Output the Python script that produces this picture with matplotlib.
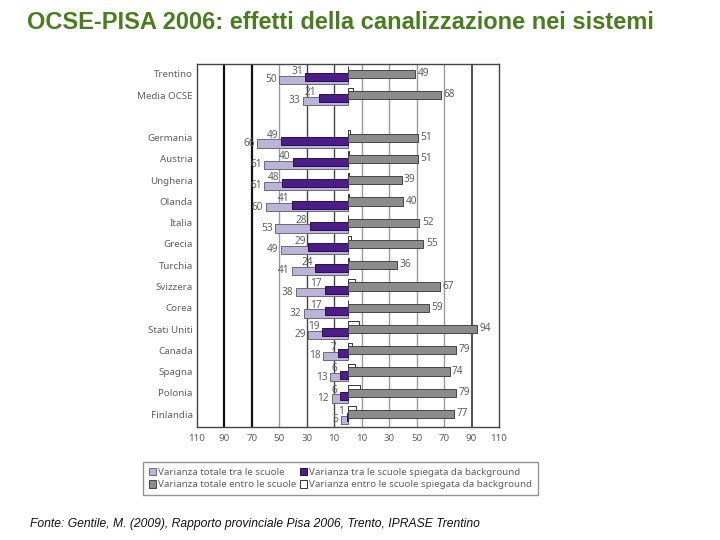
import numpy as np
import matplotlib
matplotlib.use('Agg')
import matplotlib.pyplot as plt

# data
paesi = ['Trentino', 'Media OCSE', 'Germania', 'Austria', 'Ungheria', 'Olanda',
         'Italia', 'Grecia', 'Turchia', 'Svizzera', 'Corea', 'Stati Uniti',
         'Canada', 'Spagna', 'Polonia', 'Finlandia']
row_pos = [0, 1, 3, 4, 5, 6, 7, 8, 9, 10, 11, 12, 13, 14, 15, 16]

tot_tra = [50, 33, 66, 61, 61, 60, 53, 49, 41, 38, 32, 29, 18, 13, 12, 5]     # varianza totale tra le scuole
bg_tra = [31, 21, 49, 40, 48, 41, 28, 29, 24, 17, 17, 19, 7, 6, 6, 1]         # tra, spiegata da background
tot_entro = [49, 68, 51, 51, 39, 40, 52, 55, 36, 67, 59, 94, 79, 74, 79, 77]  # varianza totale entro le scuole
bg_entro = [0, 3.5, 1.5, 0.5, 0.5, 0.7, 0.3, 2, 0.5, 5.3, 0, 7.8, 2.9, 5.1, 9, 6]  # entro, spiegata (no labels)

xticks = [-110, -90, -70, -50, -30, -10, 10, 30, 50, 70, 90, 110]

c_light = '#bcb3d9'
c_dark = '#4b1e87'
c_gray = '#8c8c8c'
txt = '#606060'
plt.rcParams['font.family'] = ['Noto Sans', 'DejaVu Sans']

fig = plt.figure(figsize=(7.2, 5.4), dpi=100)
ax = fig.add_axes([0.2736, 0.2093, 0.4194, 0.6722])

y = np.array(row_pos, dtype=float)
h = 0.38

# grid lines behind the bars
grid_style = {-90: ('#111111', 1.6), -70: ('#111111', 1.6), -50: ('#9a9a9a', 1.0),
              -30: ('#444444', 1.0), -10: ('#444444', 1.0), 10: ('#9a9a9a', 1.0),
              30: ('#9a9a9a', 1.0), 50: ('#9a9a9a', 1.0), 70: ('#9a9a9a', 1.0),
              90: ('#333333', 1.2)}
for gx, (gc, lw) in grid_style.items():
    ax.axvline(gx, color=gc, lw=lw, zorder=0)

b_light = ax.barh(y + 0.27, -np.array(tot_tra), height=h, color=c_light,
                  edgecolor='#6a6a7a', lw=0.7, zorder=2)
b_dark = ax.barh(y + 0.15, -np.array(bg_tra), height=h, color=c_dark,
                 edgecolor='#2a1050', lw=0.7, zorder=3)
b_white = ax.barh(y - 0.17, bg_entro, height=h, color='white',
                  edgecolor='#333333', lw=0.7, zorder=2)
b_gray = ax.barh(y, tot_entro, height=h, color=c_gray,
                 edgecolor='#444444', lw=0.7, zorder=3)

for i in range(len(paesi)):
    ax.text(-bg_tra[i] - 1.8, y[i] - 0.12, str(bg_tra[i]), ha='right', va='center',
            fontsize=7.3, color=txt, zorder=5)
    ax.text(-tot_tra[i] - 1.8, y[i] + 0.27, str(tot_tra[i]), ha='right', va='center',
            fontsize=7.3, color=txt, zorder=5)
    ax.text(tot_entro[i] + 1.8, y[i] - 0.02, str(tot_entro[i]), ha='left', va='center',
            fontsize=7.3, color=txt, zorder=5)

ax.set_xlim(-110, 110)
ax.set_ylim(16.61, -0.47)
ax.set_xticks(xticks)
ax.set_xticklabels([str(abs(t)) for t in xticks])
ax.set_yticks(row_pos)
ax.set_yticklabels(paesi)
ax.tick_params(axis='both', length=0, labelsize=7, labelcolor=txt)
ax.tick_params(axis='x', pad=5)
ax.tick_params(axis='y', pad=3)
for s in ax.spines.values():
    s.set_color('#444444')
    s.set_linewidth(1.0)

fig.legend([b_light, b_gray, b_dark, b_white],
           ['Varianza totale tra le scuole', 'Varianza totale entro le scuole',
            'Varianza tra le scuole spiegata da background',
            'Varianza entro le scuole spiegata da background'],
           ncol=2, loc='center', mode='expand',
           bbox_to_anchor=(0.1917, 0.0796, 0.5625, 0.0685),
           fontsize=7, labelcolor=txt, frameon=True, fancybox=False,
           edgecolor='#777777', handlelength=0.8, handleheight=0.8,
           handletextpad=0.2, labelspacing=0.35, borderpad=0.6,
           columnspacing=1.0)

fig.text(0.0375, 0.959, 'OCSE-PISA 2006: effetti della canalizzazione nei sistemi',
         fontsize=17, fontweight='bold', color='#4a7d1e', family='Liberation Sans',
         ha='left', va='center')
fig.text(0.042, 0.0296, 'Fonte: Gentile, M. (2009), Rapporto provinciale Pisa 2006, Trento, IPRASE Trentino',
         fontsize=8.7, style='italic', color='#111111', family='Liberation Sans',
         ha='left', va='center')

fig.savefig('out.png', dpi=100)
